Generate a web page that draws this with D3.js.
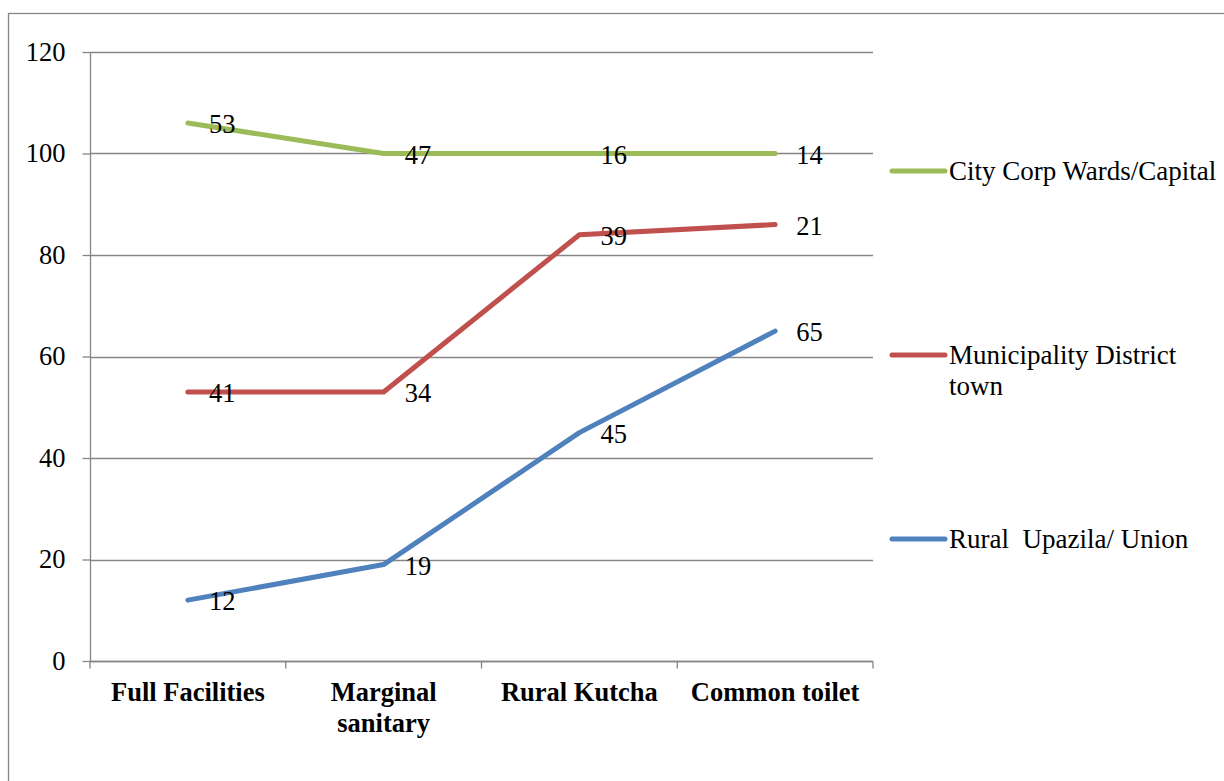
<!DOCTYPE html>
<html>
<head>
<meta charset="utf-8">
<script src="https://cdn.jsdelivr.net/npm/d3@7"></script>
<style>
  body { margin: 0; background: #fff; }
</style>
</head>
<body>
<svg id="chart" width="1224" height="781"></svg>
<script>
// Data
var categories = ["Full Facilities", "Marginal sanitary", "Rural Kutcha", "Common toilet"];
var rural = [12, 19, 45, 65];
var municipality = [41, 34, 39, 21];
var cityCorp = [53, 47, 16, 14];
var yTicks = [0, 20, 40, 60, 80, 100, 120];
var colors = ["#4F81BD", "#C0504D", "#9BBB59"];

// Margin
var margin = {top: 52, left: 90, right: 351, bottom: 120};
var width = 1224 - margin.left - margin.right;
var height = 781 - margin.top - margin.bottom;
var fs = 26.5;
var serif = "Liberation Serif";

var svg = d3.select("#chart");

// Outer border
svg.append("rect")
  .attr("x", 8.5).attr("y", 13.5)
  .attr("width", 1230).attr("height", 800)
  .attr("fill", "none").attr("stroke", "#868686").attr("stroke-width", 1.3);

var chart = svg.append("g")
  .attr("transform", "translate(" + margin.left + "," + margin.top + ")");

// Stacked values
var rows = categories.map(function(c, i) {
  return {cat: c, s0: rural[i], s1: municipality[i], s2: cityCorp[i]};
});
var stacked = d3.stack().keys(["s0", "s1", "s2"])(rows);

// Scales
var x = d3.scaleBand().domain(categories).range([0, width]);
var y = d3.scaleLinear().domain([0, 120]).range([height, 0]);

// Gridlines
chart.append("g")
  .selectAll("line")
  .data(yTicks)
  .enter().append("line")
  .attr("x1", 0).attr("x2", width)
  .attr("y1", function(d) { return Math.round(y(d)) + 0.5; })
  .attr("y2", function(d) { return Math.round(y(d)) + 0.5; })
  .attr("stroke", "#868686").attr("stroke-width", 1.3);

// Y axis
var yAxis = chart.append("g")
  .attr("transform", "translate(0.5,0)")
  .call(d3.axisLeft(y).tickValues(yTicks).tickSize(8).tickPadding(17));
yAxis.selectAll("text").attr("fill", "#000")
  .style("font-family", serif).style("font-size", fs + "px");
yAxis.selectAll("line").attr("stroke", "#868686").attr("stroke-width", 1.3);
yAxis.select(".domain").attr("stroke", "#868686").attr("stroke-width", 1.3)
  .attr("d", "M0," + height + "V0");

// X axis
var xAxis = chart.append("g")
  .attr("transform", "translate(0," + (Math.round(height) + 0.5) + ")");
xAxis.append("line")
  .attr("x1", 0).attr("x2", width)
  .attr("stroke", "#868686").attr("stroke-width", 1.3);
xAxis.selectAll(".tk")
  .data(d3.range(categories.length + 1))
  .enter().append("line")
  .attr("class", "tk")
  .attr("x1", function(i) { return i * x.step(); })
  .attr("x2", function(i) { return i * x.step(); })
  .attr("y1", 0).attr("y2", 7)
  .attr("stroke", "#868686").attr("stroke-width", 1.3);

xAxis.selectAll(".cat")
  .data(categories)
  .enter().append("text")
  .attr("class", "cat")
  .attr("y", 39)
  .attr("text-anchor", "middle")
  .style("font-family", serif).style("font-size", fs + "px").style("font-weight", "bold")
  .each(function(d) {
    var lines = d === "Marginal sanitary" ? ["Marginal", "sanitary"] : [d];
    var t = d3.select(this);
    lines.forEach(function(l, k) {
      t.append("tspan").attr("x", x(d) + x.bandwidth() / 2).attr("dy", k ? 31 : 0).text(l);
    });
  });

// Lines
var line = d3.line()
  .x(function(d) { return x(d.data.cat) + x.bandwidth() / 2; })
  .y(function(d) { return y(d[1]); });

var rawValues = [rural, municipality, cityCorp];

stacked.forEach(function(s, si) {
  chart.append("path")
    .datum(s)
    .attr("d", line)
    .attr("fill", "none")
    .attr("stroke", colors[si])
    .attr("stroke-width", 5)
    .attr("stroke-linecap", "round")
    .attr("stroke-linejoin", "round");
});

// Data labels
stacked.forEach(function(s, si) {
  chart.selectAll(".lbl" + si)
    .data(s)
    .enter().append("text")
    .attr("x", function(d) { return x(d.data.cat) + x.bandwidth() / 2 + 21; })
    .attr("y", function(d) { return y(d[1]) + 10; })
    .style("font-family", serif).style("font-size", fs + "px")
    .attr("fill", "#000")
    .text(function(d, i) { return rawValues[si][i]; });
});

// Legend
var legendItems = [
  {name: ["City Corp Wards/Capital"], color: colors[2], y: 171},
  {name: ["Municipality District", "town"], color: colors[1], y: 355},
  {name: ["Rural  Upazila/ Union"], color: colors[0], y: 539}
];
var legend = svg.append("g");
legendItems.forEach(function(it) {
  legend.append("line")
    .attr("x1", 892).attr("x2", 945)
    .attr("y1", it.y).attr("y2", it.y)
    .attr("stroke", it.color).attr("stroke-width", 5)
    .attr("stroke-linecap", "round");
  var t = legend.append("text")
    .attr("x", 949).attr("y", it.y + 9)
    .style("font-family", serif).style("font-size", "27px")
    .style("white-space", "pre");
  it.name.forEach(function(l, k) {
    t.append("tspan").attr("x", 949).attr("dy", k ? 31 : 0).text(l);
  });
});
</script>
</body>
</html>
